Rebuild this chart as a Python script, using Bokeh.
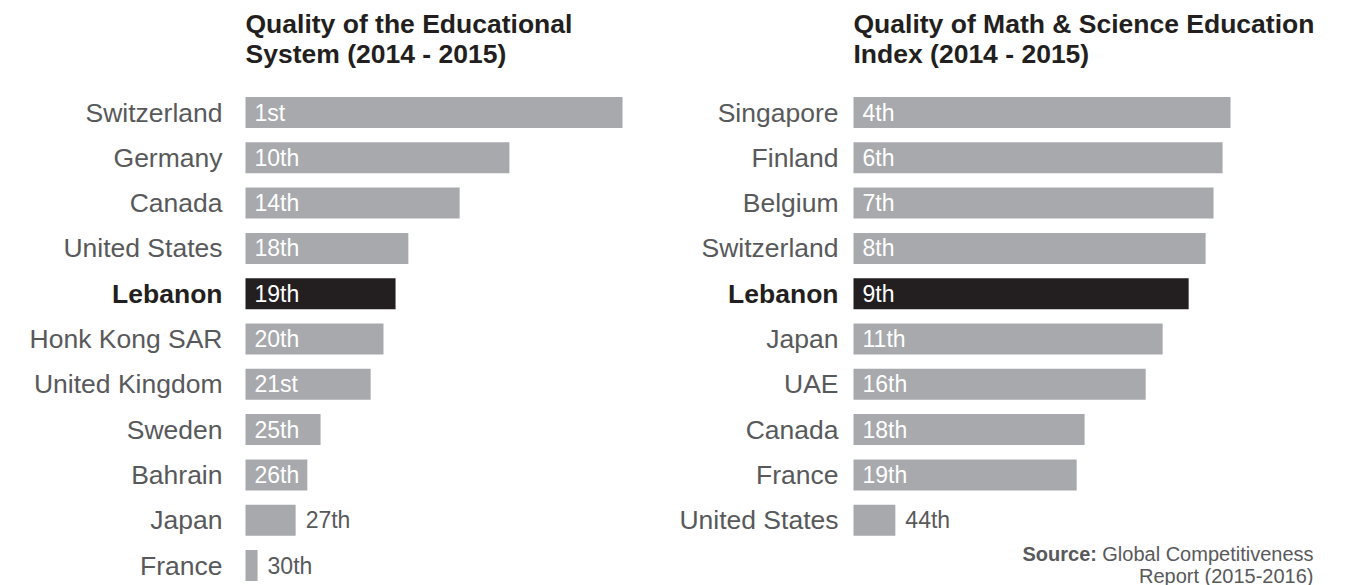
from bokeh.plotting import figure
from bokeh.layouts import row
from bokeh.models import ColumnDataSource, Range1d, Label
from bokeh.core.properties import value
from bokeh.embed import file_html
from bokeh.resources import INLINE

# ---------------- data ----------------
edu_title = ["Quality of the Educational", "System (2014 - 2015)"]
edu_countries = ["Switzerland", "Germany", "Canada", "United States", "Lebanon",
                 "Honk Kong SAR", "United Kingdom", "Sweden", "Bahrain", "Japan", "France"]
edu_scores = [100.0, 70.0, 56.8, 43.2, 39.8, 36.6, 33.2, 19.9, 16.4, 13.3, 3.2]
edu_ranks = ["1st", "10th", "14th", "18th", "19th", "20th", "21st", "25th", "26th", "27th", "30th"]

math_title = ["Quality of Math & Science Education", "Index (2014 - 2015)"]
math_countries = ["Singapore", "Finland", "Belgium", "Switzerland", "Lebanon",
                  "Japan", "UAE", "Canada", "France", "United States"]
math_scores = [100.0, 97.9, 95.5, 93.4, 88.9, 82.0, 77.5, 61.3, 59.2, 11.1]
math_ranks = ["4th", "6th", "7th", "8th", "9th", "11th", "16th", "18th", "19th", "44th"]

highlight = "Lebanon"
source_bold = "Source:"
source_lines = ["Global Competitiveness", "Report (2015-2016)"]

# ---------------- style ----------------
FONT = "Liberation Sans"
GRAY = "#A7A9AC"
DARK = "#231F20"
LABEL = "#58595B"
H = 585
PPU = 3.77          # pixels per score unit
ROW_PX = 45.3       # pixels per row
TOP_ROW_PX = 112    # centre of first row, from canvas top
Y_TOP = -TOP_ROW_PX / ROW_PX
Y_BOTTOM = (H - TOP_ROW_PX) / ROW_PX


def ypx(px):
    """canvas pixel row (from top) -> data y"""
    return Y_TOP + px / ROW_PX


def make_panel(title, countries, scores, ranks, width, bar_start_px, label_gap):
    p = figure(width=width, height=H, output_backend="svg", toolbar_location=None,
               x_axis_type=None, y_axis_type=None, min_border=0,
               x_range=Range1d(-bar_start_px / PPU, (width - bar_start_px) / PPU),
               y_range=Range1d(Y_BOTTOM, Y_TOP))
    p.outline_line_color = None
    p.background_fill_color = "white"
    p.border_fill_color = "white"

    idx = list(range(len(countries)))
    inside = [s * PPU >= 55 for s in scores]
    src = ColumnDataSource(dict(
        y=idx, score=scores, country=countries, rank=ranks,
        fill=[DARK if c == highlight else GRAY for c in countries],
        lcolor=[DARK if c == highlight else LABEL for c in countries],
        lstyle=["bold" if c == highlight else "normal" for c in countries],
        rx=[0 if ins else s for ins, s in zip(inside, scores)],
        rxo=[9 if ins else 10 for ins in inside],
        rcolor=["#FFFFFF" if ins else LABEL for ins in inside],
    ))
    p.hbar(y="y", left=0, right="score", height=0.684, fill_color="fill",
           line_color=None, source=src)
    p.text(x=0, y="y", text="country", x_offset=-label_gap, text_align="right",
           text_baseline="middle", text_font=value(FONT), text_font_size="26.5px",
           text_color="lcolor", text_font_style="lstyle", source=src)
    p.text(x="rx", y="y", text="rank", x_offset="rxo", text_align="left",
           text_baseline="middle", text_font=value(FONT), text_font_size="23px",
           text_color="rcolor", source=src)

    for k, line in enumerate(title):
        p.add_layout(Label(x=0, y=ypx(23 + 30 * k), text=line,
                           text_font=FONT, text_font_size="26.5px",
                           text_font_style="bold", text_color=DARK,
                           text_align="left", text_baseline="middle"))
    return p


left = make_panel(edu_title, edu_countries, edu_scores, edu_ranks, 628, 245, 23)
right = make_panel(math_title, math_countries, math_scores, math_ranks, 721, 225, 15)

# source note, right-aligned near the right edge of the right panel
src_x = (685 - 225) / PPU
for k, line in enumerate(source_lines):
    right.add_layout(Label(x=src_x, y=ypx(553 + 22 * k), text=line,
                           text_font=FONT, text_font_size="20px", text_color=LABEL,
                           text_align="right", text_baseline="middle"))
right.add_layout(Label(x=src_x, y=ypx(553), text=source_bold,
                       x_offset=-291, text_font=FONT, text_font_size="20px",
                       text_font_style="bold", text_color=LABEL,
                       text_align="left", text_baseline="middle"))

layout = row(left, right, spacing=0)
open("out.html", "w").write(file_html(layout, INLINE))
